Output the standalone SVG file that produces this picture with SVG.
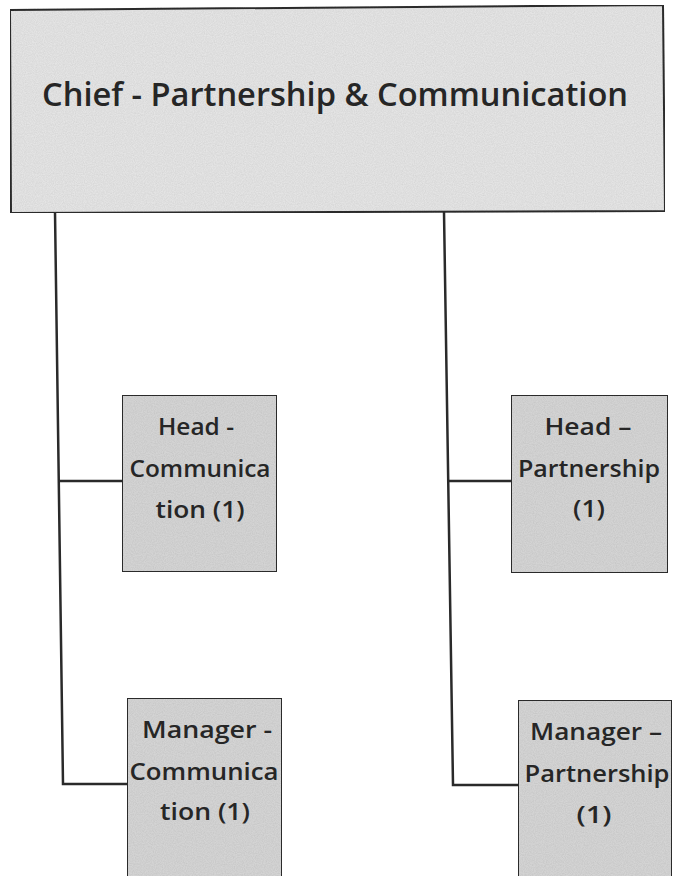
<svg xmlns="http://www.w3.org/2000/svg" width="677" height="876" viewBox="0 0 677 876">
<defs>
<filter id="grain" x="0" y="0" width="100%" height="100%">
<feTurbulence type="fractalNoise" baseFrequency="0.9" numOctaves="2" seed="3" result="n"/>
<feColorMatrix in="n" type="matrix" values="0 0 0 0 0  0 0 0 0 0  0 0 0 0 0  0 0 0 0.22 -0.06" result="dots"/>
<feComposite in="dots" in2="SourceGraphic" operator="in" result="d2"/>
<feMerge><feMergeNode in="SourceGraphic"/><feMergeNode in="d2"/></feMerge>
</filter>
</defs>
<style>
.box{stroke:#2e2e2e;stroke-width:2;filter:url(#grain)}
.top{fill:#e4e4e4}
.sub{fill:#d4d4d4}
.t{font-family:"Open Sans","Liberation Sans",sans-serif;font-weight:600;fill:#262626;text-anchor:middle}
.big{font-size:33px}
.sm{font-size:24px}
.ln{fill:none;stroke:#2a2a2a;stroke-width:2.5}
</style>
<rect width="677" height="876" fill="#ffffff"/>
<g id="connectors">
<path class="ln" d="M55 212 L63 784 L127 784"/>
<path class="ln" d="M58 481 L122 481"/>
<path class="ln" d="M444 212 L453 785 L518 785"/>
<path class="ln" d="M447 481 L511 481"/>
</g>
<g id="chief">
<polygon class="box top" points="10,10 663,5 665,211 11,213"/>
<text class="t big" x="335" y="106" textLength="586" lengthAdjust="spacingAndGlyphs">Chief - Partnership &amp; Communication</text>
</g>
<g id="head-communication">
<rect class="box sub" x="122" y="395" width="155" height="177"/>
<text class="t sm" x="196" y="435" textLength="76" lengthAdjust="spacingAndGlyphs">Head -</text>
<text class="t sm" x="200" y="477" textLength="141" lengthAdjust="spacingAndGlyphs">Communica</text>
<text class="t sm" x="200" y="518" textLength="89" lengthAdjust="spacingAndGlyphs">tion (1)</text>
</g>
<g id="head-partnership">
<rect class="box sub" x="511" y="395" width="157" height="178"/>
<text class="t sm" x="588" y="435" textLength="87" lengthAdjust="spacingAndGlyphs">Head –</text>
<text class="t sm" x="589" y="477" textLength="142" lengthAdjust="spacingAndGlyphs">Partnership</text>
<text class="t sm" x="589" y="517" textLength="32" lengthAdjust="spacingAndGlyphs">(1)</text>
</g>
<g id="manager-communication">
<rect class="box sub" x="127" y="698" width="155" height="190"/>
<text class="t sm" x="207" y="738" textLength="130" lengthAdjust="spacingAndGlyphs">Manager -</text>
<text class="t sm" x="204" y="780" textLength="149" lengthAdjust="spacingAndGlyphs">Communica</text>
<text class="t sm" x="205" y="820" textLength="90" lengthAdjust="spacingAndGlyphs">tion (1)</text>
</g>
<g id="manager-partnership">
<rect class="box sub" x="518" y="700" width="154" height="190"/>
<text class="t sm" x="596" y="740" textLength="132" lengthAdjust="spacingAndGlyphs">Manager –</text>
<text class="t sm" x="597" y="782" textLength="145" lengthAdjust="spacingAndGlyphs">Partnership</text>
<text class="t sm" x="594" y="823" textLength="35" lengthAdjust="spacingAndGlyphs">(1)</text>
</g>
</svg>
